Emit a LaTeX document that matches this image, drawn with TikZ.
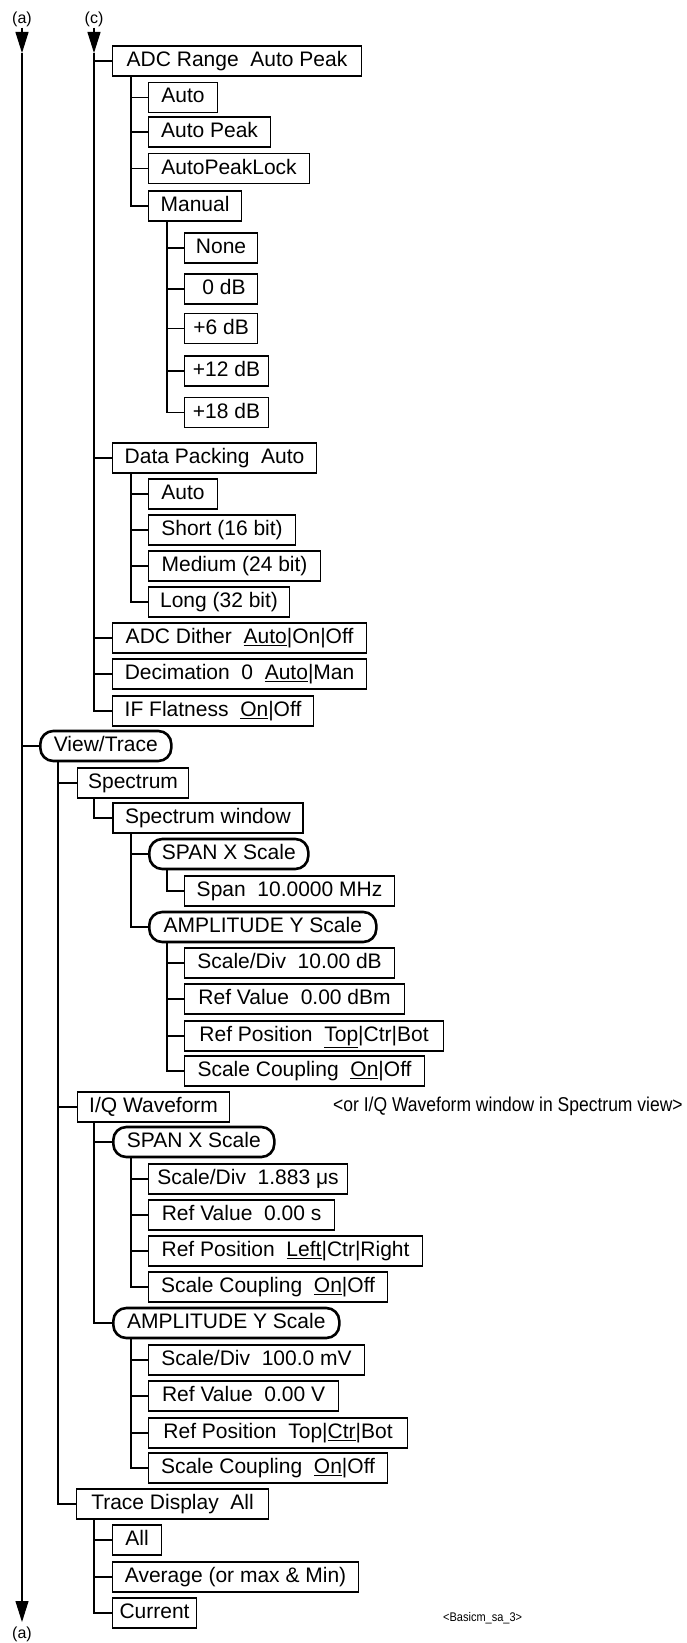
\documentclass[tikz,border=0pt]{standalone}
\usepackage{fontspec}
\setmainfont{Liberation Sans}
\usetikzlibrary{arrows.meta}
\begin{document}
\begin{tikzpicture}[x=1pt,y=-1pt,
  box/.style={draw, line width=1.1pt, anchor=west, minimum height=30pt, inner xsep=0pt, inner ysep=0pt,
    text height=15.5pt, text depth=4.5pt, font=\fontsize{21}{25}\selectfont},
  rbox/.style={box, line width=2.6pt, rounded corners=13pt},
  lbl/.style={font=\fontsize{16}{19}\selectfont, inner sep=1pt},
  link/.style={line width=1.1pt},
  tri/.style={link, -{Triangle[length=21pt,width=13pt]}}]
\useasboundingbox (0,0) rectangle (686,1643);

% labels and arrow tips
\node[lbl] (la1) at (22,19) {(a)};
\node[lbl] (lc) at (94,19) {(c)};
\node[lbl] (la2) at (22,1634) {(a)};
\coordinate (atip) at (22,53);
\coordinate (ctip) at (94,53);
\coordinate (abtip) at (22,1622);

% ADC Range tree
\node[box, minimum width=249pt] (adc) at (112,61) {ADC Range~~Auto Peak};
\node[box, minimum width=69pt] (adcAuto) at (148,97.5) {Auto};
\node[box, minimum width=122pt] (adcAP) at (148,132) {Auto Peak};
\node[box, minimum width=161pt] (adcAPL) at (148,168.5) {AutoPeakLock};
\node[box, minimum width=93pt] (manual) at (148,206) {Manual};
\node[box, minimum width=73pt] (none) at (184,248) {None};
\node[box, minimum width=73pt] (db0) at (184,289) {~0 dB};
\node[box, minimum width=73pt] (db6) at (184,328.5) {+6 dB};
\node[box, minimum width=84pt] (db12) at (184,371) {+12 dB};
\node[box, minimum width=84pt] (db18) at (184,412.5) {+18 dB};
\node[box, minimum width=204pt] (dp) at (112,458) {Data Packing~~Auto};
\node[box, minimum width=69pt] (dpAuto) at (148,494) {Auto};
\node[box, minimum width=147pt] (short) at (148,530) {Short (16 bit)};
\node[box, minimum width=172pt] (medium) at (148,566) {Medium (24 bit)};
\node[box, minimum width=141pt] (long) at (148,602) {Long (32 bit)};
\node[box, minimum width=254pt] (dither) at (112,638) {ADC Dither~~\underline{Auto}|On|Off};
\node[box, minimum width=254pt] (decim) at (112,674) {Decimation~~0~~\underline{Auto}|Man};
\node[box, minimum width=201pt] (iff) at (112,711) {IF Flatness~~\underline{On}|Off};

% View/Trace tree
\node[rbox, minimum width=131pt] (view) at (39,746) {View/Trace};
\node[box, minimum width=111pt] (spectrum) at (77,783) {Spectrum};
\node[box, minimum width=190pt, line width=1.8pt] (specwin) at (112,818) {Spectrum window};
\node[rbox, minimum width=159pt] (span1) at (148,854) {SPAN X Scale};
\node[box, minimum width=210pt] (spanval) at (184,891) {Span~~10.0000 MHz};
\node[rbox, minimum width=227pt] (amp1) at (148,927) {AMPLITUDE Y Scale};
\node[box, minimum width=210pt] (sdiv1) at (184,963) {Scale/Div~~10.00 dB};
\node[box, minimum width=220pt] (rv1) at (184,999) {Ref Value~~0.00 dBm};
\node[box, minimum width=259pt] (rp1) at (184,1036) {Ref Position~~\underline{Top}|Ctr|Bot};
\node[box, minimum width=240pt] (sc1) at (184,1071) {Scale Coupling~~\underline{On}|Off};

\node[box, minimum width=152pt] (iq) at (77,1107) {I/Q Waveform};
\node[anchor=west, inner sep=0pt, font=\fontsize{20}{24}\selectfont] (note) at (333,1106)
  {\scalebox{0.875}[1]{<or I/Q Waveform window in Spectrum view>}};
\node[rbox, minimum width=161pt] (span2) at (112,1142) {SPAN X Scale};
\node[box, minimum width=199pt] (sdiv2) at (148,1179) {Scale/Div~~1.883 μs};
\node[box, minimum width=186pt] (rv2) at (148,1215) {Ref Value~~0.00 s};
\node[box, minimum width=274pt] (rp2) at (148,1251) {Ref Position~~\underline{Left}|Ctr|Right};
\node[box, minimum width=239pt] (sc2) at (148,1287) {Scale Coupling~~\underline{On}|Off};
\node[rbox, minimum width=226pt] (amp2) at (112,1323) {AMPLITUDE Y Scale};
\node[box, minimum width=216pt] (sdiv3) at (148,1360) {Scale/Div~~100.0 mV};
\node[box, minimum width=190pt] (rv3) at (148,1396) {Ref Value~~0.00 V};
\node[box, minimum width=259pt] (rp3) at (148,1433) {Ref Position~~Top|\underline{Ctr}|Bot};
\node[box, minimum width=239pt] (sc3) at (148,1468) {Scale Coupling~~\underline{On}|Off};

\node[box, minimum width=192pt] (trace) at (76,1504) {Trace Display~~All};
\node[box, minimum width=49pt] (tAll) at (112,1540) {All};
\node[box, minimum width=246pt] (tAvg) at (112,1577) {Average (or max \& Min)};
\node[box, minimum width=84pt] (tCur) at (112,1613) {Current};
\node[anchor=west, inner sep=0pt, font=\fontsize{12.5}{15}\selectfont] (basic) at (443,1618)
  {\scalebox{0.88}[1]{<Basicm\_sa\_3>}};

% trunks
\draw[tri] (la1.south) -- (atip);
\draw[tri] (atip) -- (abtip);
\draw[tri] (lc.south) -- (ctip);
\foreach \n in {adc,dp,dither,decim,iff} \draw[link] (ctip) |- (\n.west);
\draw[link] (atip) |- (view.west);

% branches
\foreach \n in {adcAuto,adcAP,adcAPL,manual} \draw[link] ([xshift=19pt]adc.south west) |- (\n.west);
\foreach \n in {none,db0,db6,db12,db18} \draw[link] ([xshift=19pt]manual.south west) |- (\n.west);
\foreach \n in {dpAuto,short,medium,long} \draw[link] ([xshift=19pt]dp.south west) |- (\n.west);
\foreach \n in {spectrum,iq,trace} \draw[link] ([xshift=19pt]view.south west) |- (\n.west);
\draw[link] ([xshift=17pt]spectrum.south west) |- (specwin.west);
\foreach \n in {span1,amp1} \draw[link] ([xshift=19pt]specwin.south west) |- (\n.west);
\draw[link] ([xshift=19pt]span1.south west) |- (spanval.west);
\foreach \n in {sdiv1,rv1,rp1,sc1} \draw[link] ([xshift=19pt]amp1.south west) |- (\n.west);
\foreach \n in {span2,amp2} \draw[link] ([xshift=17pt]iq.south west) |- (\n.west);
\foreach \n in {sdiv2,rv2,rp2,sc2} \draw[link] ([xshift=19pt]span2.south west) |- (\n.west);
\foreach \n in {sdiv3,rv3,rp3,sc3} \draw[link] ([xshift=19pt]amp2.south west) |- (\n.west);
\foreach \n in {tAll,tAvg,tCur} \draw[link] ([xshift=18pt]trace.south west) |- (\n.west);
\end{tikzpicture}
\end{document}
